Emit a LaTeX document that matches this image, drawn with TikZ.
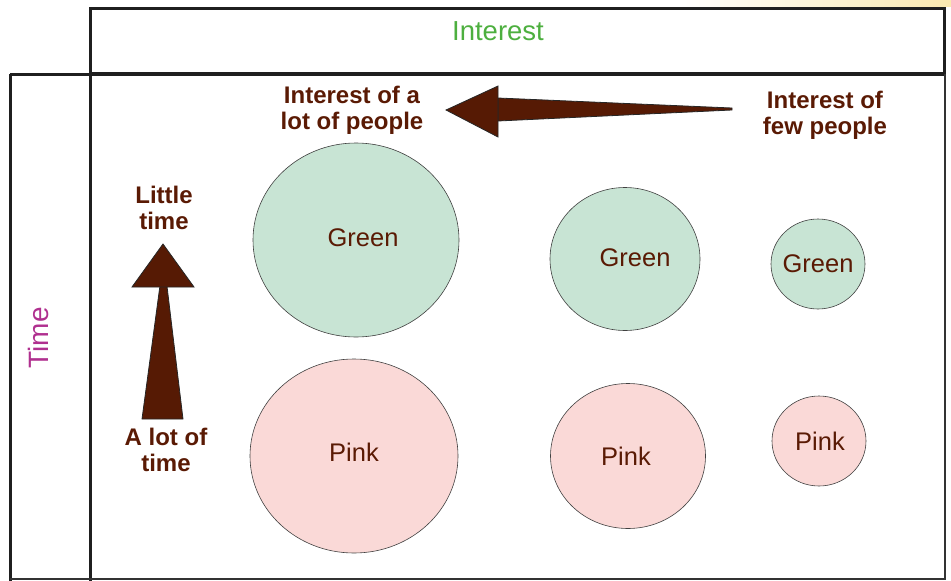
\documentclass[tikz,border=0pt]{standalone}
\usepackage{fontspec}
\setmainfont{Liberation Sans}
\usetikzlibrary{shapes.geometric}
\definecolor{brn}{HTML}{5A1A04}
\definecolor{arr}{HTML}{561A04}
\definecolor{gfill}{HTML}{C8E4D4}
\definecolor{pfill}{HTML}{FAD9D7}
\definecolor{gtxt}{HTML}{4DAF3F}
\definecolor{mtxt}{HTML}{B0308F}
\definecolor{ylw}{HTML}{FBE9B0}
\tikzset{
  frame/.style={draw=black!88, line width=3pt},
  lbl/.style={text=brn, font=\fontsize{24}{26}\selectfont\bfseries, align=center},
  ctxt/.style={text=brn, font=\fontsize{25.5}{28}\selectfont},
  gcirc/.style={ellipse, draw=black!75, line width=0.6pt, fill=gfill},
  pcirc/.style={ellipse, draw=black!75, line width=0.6pt, fill=pfill},
  arrowshape/.style={fill=arr, draw=black!85, line width=0.8pt, line join=miter},
}
\begin{document}
\begin{tikzpicture}[x=1pt,y=-1pt]
\useasboundingbox (0,0) rectangle (951,581);
\shade[left color=white, right color=ylw] (680,0) rectangle (951,6);
% frames
\draw[frame] (90,8) rectangle (944,73);
\draw[frame] (10,74) -- (944,74);
\draw[frame] (10,74) -- (10,581);
\draw[frame] (90,74) -- (90,581);
\draw[draw=black!80, line width=1.2pt] (945,74) -- (945,579) -- (10,579);
\node[text=gtxt, font=\fontsize{27.5}{30}\selectfont] (interest) at (498,31) {Interest};
\node[text=mtxt, font=\fontsize{28}{30}\selectfont, rotate=90] (time) at (38,338) {Time};
% circles
\node[gcirc, minimum width=206pt, minimum height=194pt, inner sep=0pt] (g1) at (356,240) {};
\node[pcirc, minimum width=208pt, minimum height=194pt, inner sep=0pt] (p1) at (354,456) {};
\node[gcirc, minimum width=150pt, minimum height=143pt, inner sep=0pt] (g2) at (625,259) {};
\node[pcirc, minimum width=155pt, minimum height=145pt, inner sep=0pt] (p2) at (628,456) {};
\node[gcirc, minimum width=94pt, minimum height=90pt, inner sep=0pt] (g3) at (818,264) {};
\node[pcirc, minimum width=94pt, minimum height=90pt, inner sep=0pt] (p3) at (819,441) {};
\node[ctxt] (tg1) at (363,238) {Green};
\node[ctxt] (tp1) at (354,452) {Pink};
\node[ctxt] (tg2) at (635,258) {Green};
\node[ctxt] (tp2) at (626,456) {Pink};
\node[ctxt] (tg3) at (818,264) {Green};
\node[ctxt] (tp3) at (820,441) {Pink};
% labels
\node[lbl] (lot) at (352,110) {Interest of a\\lot of people};
\node[lbl] (few) at (825,115) {Interest of\\few people};
\node[lbl] (little) at (164,208) {Little\\time};
\node[lbl] (alot) at (166,450) {A lot of\\time};
% arrows
\draw[arrowshape] (142,419) -- (161,278) -- (166,278) -- (183,419) -- cycle;
\draw[arrowshape] (163,244) -- (194,287) -- (132,287) -- cycle;
\draw[arrowshape] (732,108) -- (498,98) -- (498,121) -- (732,110) -- cycle;
\draw[arrowshape] (446,110) -- (498,86) -- (498,137) -- cycle;
\end{tikzpicture}
\end{document}
